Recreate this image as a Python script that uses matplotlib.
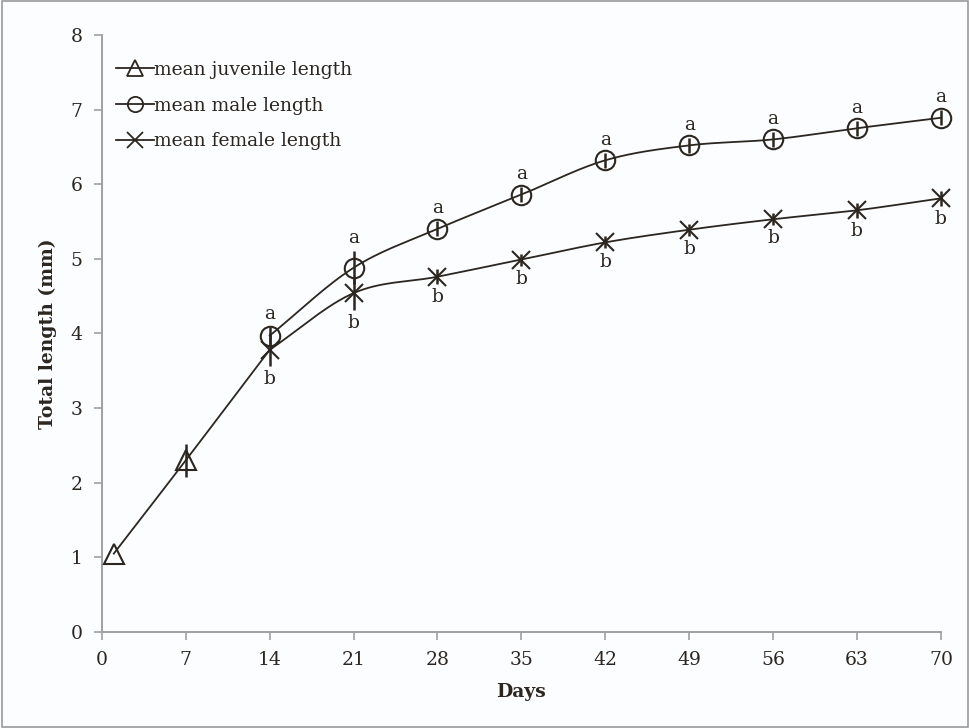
import numpy as np
import matplotlib.pyplot as plt

plt.rcParams['font.family'] = ['DejaVu Serif']

juv_days = [1, 7, 14]
juv_len = [1.05, 2.30, 3.78]
juv_err = [0.0, 0.22, 0.0]

days = [14, 21, 28, 35, 42, 49, 56, 63, 70]
male_len = [3.97, 4.88, 5.40, 5.86, 6.32, 6.52, 6.60, 6.75, 6.89]
male_err = [0.12, 0.22, 0.10, 0.10, 0.10, 0.10, 0.10, 0.10, 0.10]
female_len = [3.78, 4.54, 4.76, 4.99, 5.22, 5.39, 5.53, 5.65, 5.81]
female_err = [0.22, 0.22, 0.10, 0.08, 0.08, 0.08, 0.08, 0.10, 0.10]
male_lbl = ['a'] * 9
female_lbl = ['b'] * 9

ink = '#2b2620'


def smooth(x, y, n=30):
    # Catmull-Rom style curve, like Excel's smoothed line
    x = np.asarray(x, float)
    y = np.asarray(y, float)
    px = np.concatenate([[2 * x[0] - x[1]], x, [2 * x[-1] - x[-2]]])
    py = np.concatenate([[2 * y[0] - y[1]], y, [2 * y[-1] - y[-2]]])
    xs, ys = [], []
    t = np.linspace(0, 1, n)
    for i in range(1, len(px) - 2):
        p0, p1, p2, p3 = px[i - 1], px[i], px[i + 1], px[i + 2]
        q0, q1, q2, q3 = py[i - 1], py[i], py[i + 1], py[i + 2]
        s = 1 / 6
        c1x, c1y = p1 + (p2 - p0) * s, q1 + (q2 - q0) * s
        c2x, c2y = p2 - (p3 - p1) * s, q2 - (q3 - q1) * s
        bx = (1 - t) ** 3 * p1 + 3 * (1 - t) ** 2 * t * c1x + 3 * (1 - t) * t ** 2 * c2x + t ** 3 * p2
        by = (1 - t) ** 3 * q1 + 3 * (1 - t) ** 2 * t * c1y + 3 * (1 - t) * t ** 2 * c2y + t ** 3 * q2
        xs.append(bx)
        ys.append(by)
    return np.concatenate(xs), np.concatenate(ys)


fig = plt.figure(figsize=(9.7, 7.28), dpi=100, facecolor='#fcfdff')
fig.patches.append(plt.Rectangle((0.002, 0.002), 0.996, 0.996, transform=fig.transFigure,
                                 fill=False, edgecolor='#9a9a9a', lw=1.2))
ax = fig.add_axes([0.105, 0.132, 0.865, 0.82])
ax.set_facecolor('#fcfdff')

for d, v, e, mk, ms in [(juv_days, juv_len, juv_err, '^', 15),
                        (days, male_len, male_err, 'o', 14),
                        (days, female_len, female_err, 'x', 13)]:
    sx, sy = smooth(d, v)
    ax.plot(sx, sy, color=ink, lw=1.3, zorder=2, clip_on=False)
    k = len(d) - 1 if mk == '^' else len(d)
    eb = ax.errorbar(d[:k], v[:k], yerr=e[:k], fmt='none', ecolor=ink, elinewidth=1.8, capsize=0, zorder=3)
    for c in eb[2]:
        c.set_clip_on(False)
    ax.plot(d[:k], v[:k], linestyle='none', marker=mk, ms=ms, mfc='none', mec=ink, mew=1.5,
            zorder=4, clip_on=False)

for d, v, e, t in zip(days, male_len, male_err, male_lbl):
    ax.annotate(t, (d, v + e), xytext=(0, 3), textcoords='offset points', ha='center',
                va='bottom', fontsize=13.5, color=ink)
for d, v, e, t in zip(days, female_len, female_err, female_lbl):
    ax.annotate(t, (d, v - e), xytext=(0, -3), textcoords='offset points', ha='center',
                va='top', fontsize=13.5, color=ink)

h1, = ax.plot([], [], color=ink, lw=1.3, marker='^', ms=11, mfc='none', mec=ink, mew=1.3)
h2, = ax.plot([], [], color=ink, lw=1.3, marker='o', ms=11, mfc='none', mec=ink, mew=1.3)
h3, = ax.plot([], [], color=ink, lw=1.3, marker='x', ms=11, mfc='none', mec=ink, mew=1.3)
ax.legend([h1, h2, h3], ['mean juvenile length', 'mean male length', 'mean female length'],
          loc='upper left', bbox_to_anchor=(-0.003, 0.985), frameon=False, fontsize=13.5,
          handlelength=2.0, handletextpad=0.0, labelspacing=0.95, labelcolor=ink)

ax.set_xlim(0, 70)
ax.set_ylim(0, 8)
ax.set_xticks(np.arange(0, 71, 7))
ax.set_yticks(np.arange(0, 9, 1))
ax.tick_params(labelsize=13.5, colors=ink, length=6, width=1.2, color='#a0a0a0', pad=8)
for s in ['top', 'right']:
    ax.spines[s].set_visible(False)
for s in ['left', 'bottom']:
    ax.spines[s].set_color('#a0a0a0')
    ax.spines[s].set_linewidth(1.4)
ax.set_xlabel('Days', fontsize=13.5, fontweight='bold', color=ink, labelpad=10)
ax.set_ylabel('Total length (mm)', fontsize=13.5, fontweight='bold', color=ink, labelpad=10)

fig.savefig('out.png', dpi=100, facecolor=fig.get_facecolor())
